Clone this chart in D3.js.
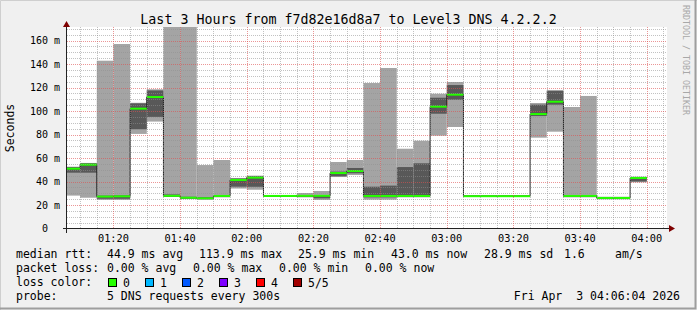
<!DOCTYPE html>
<html>
<head>
<meta charset="utf-8">
<script src="https://cdn.jsdelivr.net/npm/d3@7"></script>
<style>
  html, body { margin: 0; padding: 0; background: #f0f0f0; }
  svg { display: block; font-family: "DejaVu Sans Mono", monospace; }
  text { white-space: pre; }
</style>
</head>
<body>
<svg id="chart" width="697" height="310"></svg>
<script>
/* smokeping-style rtt graph: 5 pings per 300s step, smoke = spread of the
   sorted pings, green bar = median (loss 0). */

// 5-minute step starts (HH:MM), last 3 hours
const slotStart = ['01:05', '01:10', '01:15', '01:20', '01:25', '01:30', '01:35', '01:40', '01:45', '01:50',
  '01:55', '02:00', '02:05', '02:10', '02:15', '02:20', '02:25', '02:30', '02:35', '02:40',
  '02:45', '02:50', '02:55', '03:00', '03:05', '03:10', '03:15', '03:20', '03:25', '03:30',
  '03:35', '03:40', '03:45', '03:50', '03:55'];
// sorted ping rtts per step, ms
const ping1 = [28.0, 26.2, 24.3, 24.3, 80.5, 91.0, 26.8, 25.0, 24.5, 26.5,
  34.0, 33.0, 26.8, 26.8, 26.5, 24.3, 43.8, 45.5, 24.5, 24.5,
  26.5, 26.5, 79.0, 86.4, 27.0, 27.0, 27.0, 27.0, 77.3, 82.4,
  26.5, 26.5, 24.8, 24.8, 39.3];
const ping2 = [47.5, 47.5, 25.3, 25.3, 84.5, 95.0, 27.2, 25.5, 25.0, 27.0,
  35.6, 35.5, 27.0, 27.0, 27.0, 25.7, 44.4, 47.0, 26.5, 26.5,
  27.0, 27.0, 97.7, 109.6, 27.3, 27.3, 27.3, 27.3, 95.7, 105.4,
  27.0, 27.0, 25.2, 25.2, 40.0];
const median = [50.9, 54.3, 27.2, 27.4, 102.0, 111.9, 27.8, 26.2, 25.7, 27.7,
  41.3, 43.3, 27.7, 27.7, 27.8, 27.8, 47.2, 48.9, 27.7, 27.7,
  27.7, 27.7, 103.7, 113.9, 27.5, 27.5, 27.5, 27.5, 97.4, 107.9,
  27.7, 27.7, 26.0, 26.0, 43.0];
const ping4 = [52.2, 55.5, 28.0, 28.0, 106.5, 117.5, 29.0, 27.0, 26.5, 28.2,
  42.5, 44.5, 28.0, 28.0, 28.5, 28.5, 48.4, 51.5, 35.6, 36.5,
  52.3, 55.5, 111.3, 122.1, 28.0, 28.0, 28.0, 28.0, 105.4, 117.0,
  28.5, 28.5, 26.5, 26.5, 43.8];
const ping5 = [52.6, 55.8, 142.8, 157.0, 107.0, 118.5, 185.0, 180.0, 54.0, 58.3,
  43.0, 45.0, 28.3, 28.5, 30.2, 31.9, 56.6, 58.3, 123.8, 136.6,
  67.9, 74.7, 114.7, 124.7, 28.3, 28.3, 28.3, 28.3, 106.8, 117.9,
  103.4, 112.8, 27.0, 27.0, 44.1];

const yTicks = [0, 20, 40, 60, 80, 100, 120, 140, 160];
const xTicks = ['01:20', '01:40', '02:00', '02:20', '02:40', '03:00', '03:20', '03:40', '04:00'];

const title = 'Last 3 Hours from f7d82e16d8a7 to Level3 DNS 4.2.2.2';
const legendRtt = ['44.9 ms avg', '113.9 ms max', '25.9 ms min', '43.0 ms now', '28.9 ms sd', '1.6', 'am/s'];
const legendLoss = ['0.00 % avg', '0.00 % max', '0.00 % min', '0.00 % now'];
const lossLabels = ['0', '1', '2', '3', '4', '5/5'];
const lossColors = ['#26ff00', '#00b8ff', '#0059ff', '#7e00ff', '#ff0000', '#a10000'];
const probeText = '5 DNS requests every 300s';
const stampText = 'Fri Apr  3 04:06:04 2026';

const W = 697, H = 310;
const P = { l: 67, r: 667, t: 27, b: 228.5 };

const parseT = d3.timeParse('%H:%M:%S');
const t0 = parseT('01:06:04'), t1 = parseT('04:06:04');
const hm = s => parseT(s + ':00');
const step = 5 * 60 * 1000;

const x = d3.scaleTime().domain([t0, t1]).range([P.l, P.r]);
const y = d3.scaleLinear().domain([0, 171.5]).range([P.b, P.t]);

const rows = slotStart.map((s, i) => ({
  t: hm(s), p1: ping1[i], p2: ping2[i], med: median[i], p4: ping4[i], p5: ping5[i]
}));

const svg = d3.select('#chart');

// frame: background + shaded border
svg.append('rect').attr('width', W).attr('height', H).attr('fill', '#f0f0f0');
svg.append('path').attr('d', `M0.5,${H} V0.5 H${W}`).attr('fill', 'none').attr('stroke', '#cfcfcf').attr('stroke-width', 1);
svg.append('path').attr('d', `M0,${H - 1.5} H${W - 1.5} V0`).attr('fill', 'none').attr('stroke', '#9e9e9e').attr('stroke-width', 2);

// canvas
svg.append('rect').attr('x', P.l).attr('y', P.t).attr('width', P.r - P.l).attr('height', P.b - P.t).attr('fill', '#fff');

svg.append('defs').append('clipPath').attr('id', 'plot')
  .append('rect').attr('x', P.l).attr('y', P.t).attr('width', P.r - P.l).attr('height', P.b - P.t);

const g = svg.append('g').attr('clip-path', 'url(#plot)');
const bx = d => x(d.t), bw = d => x(new Date(+d.t + step)) - x(d.t);

// smoke: outer pair (p1..p5) then inner pair (p2..p4)
g.append('g').selectAll('rect').data(rows).join('rect')
  .attr('x', bx).attr('width', bw)
  .attr('y', d => y(d.p5)).attr('height', d => y(d.p1) - y(d.p5))
  .attr('fill', '#a4a4a4');
g.append('g').selectAll('rect').data(rows).join('rect')
  .attr('x', bx).attr('width', bw)
  .attr('y', d => y(d.p4)).attr('height', d => y(d.p2) - y(d.p4))
  .attr('fill', '#585858');

// median step line
const last = rows[rows.length - 1];
const medPts = rows.map(d => [x(d.t), y(d.med)]).concat([[x(new Date(+last.t + step)), y(last.med)]]);
g.append('path').attr('d', d3.line().curve(d3.curveStepAfter)(medPts))
  .attr('fill', 'none').attr('stroke', '#202020').attr('stroke-width', 1);

// median, coloured by loss (all 0 here)
g.append('g').selectAll('rect').data(rows).join('rect')
  .attr('x', bx).attr('width', bw)
  .attr('y', d => y(d.med) - 1).attr('height', 2)
  .attr('fill', lossColors[0]);

// grid on top of the data, rrdtool style
const grid = svg.append('g').attr('fill', 'none').attr('stroke-dasharray', '1,1').attr('shape-rendering', 'crispEdges');
const minorY = d3.range(5, 171.5, 5).filter(v => v % 20 !== 0);
grid.selectAll('.hmin').data(minorY).join('line')
  .attr('x1', P.l).attr('x2', P.r).attr('y1', d => Math.round(y(d)) + 0.5).attr('y2', d => Math.round(y(d)) + 0.5)
  .attr('stroke', 'rgba(143,143,143,0.55)');
const minorX = d3.timeMinute.every(5).range(t0, t1).filter(t => t.getMinutes() % 20 !== 0);
grid.selectAll('.vmin').data(minorX).join('line')
  .attr('y1', P.t).attr('y2', P.b).attr('x1', d => Math.round(x(d)) + 0.5).attr('x2', d => Math.round(x(d)) + 0.5)
  .attr('stroke', 'rgba(143,143,143,0.55)');
grid.selectAll('.hmaj').data(yTicks.filter(v => v > 0)).join('line')
  .attr('x1', P.l).attr('x2', P.r).attr('y1', d => Math.round(y(d)) + 0.5).attr('y2', d => Math.round(y(d)) + 0.5)
  .attr('stroke', 'rgba(222,80,80,0.6)');
grid.selectAll('.vmaj').data(xTicks).join('line')
  .attr('y1', P.t).attr('y2', P.b).attr('x1', d => Math.round(x(hm(d))) + 0.5).attr('x2', d => Math.round(x(hm(d))) + 0.5)
  .attr('stroke', 'rgba(222,80,80,0.6)');

// axes + arrows
const ax = svg.append('g').attr('shape-rendering', 'crispEdges');
ax.append('line').attr('x1', P.l - 4).attr('x2', P.r + 2).attr('y1', P.b).attr('y2', P.b).attr('stroke', '#222');
ax.append('line').attr('x1', P.l - 0.5).attr('x2', P.l - 0.5).attr('y1', P.b + 4).attr('y2', P.t - 1).attr('stroke', '#222');
svg.append('path').attr('d', `M${P.r + 2},${P.b - 3.5} L${P.r + 8},${P.b} L${P.r + 2},${P.b + 3.5}Z`).attr('fill', '#7f0000');
svg.append('path').attr('d', `M${P.l - 4},${P.t} L${P.l - 0.5},${P.t - 6} L${P.l + 3},${P.t}Z`).attr('fill', '#7f0000');

// tick labels
svg.append('g').selectAll('text').data(yTicks).join('text')
  .attr('x', 60).attr('y', d => y(d)).attr('dy', '0.36em').attr('text-anchor', 'end')
  .attr('font-size', 10).attr('fill', '#000')
  .text(d => d === 0 ? '0  ' : `${d} m`);
svg.append('g').selectAll('text').data(xTicks).join('text')
  .attr('x', d => x(hm(d))).attr('y', 241.5).attr('text-anchor', 'middle')
  .attr('font-size', 10.3).attr('fill', '#000').text(d => d);

// title, axis label, rrdtool tag
svg.append('text').attr('x', W / 2).attr('y', 23.5).attr('text-anchor', 'middle')
  .attr('font-size', 13.3).text(title);
svg.append('text').attr('transform', 'translate(14,128) rotate(-90)').attr('text-anchor', 'middle')
  .attr('font-size', 11.5).text('Seconds');
svg.append('text').attr('transform', 'translate(683,5) rotate(90)').attr('font-size', 8.3)
  .attr('fill', '#a8a8a8').text('RRDTOOL / TOBI OETIKER');

// legend
const lg = svg.append('g').attr('font-size', 11.5).attr('fill', '#000');
const put = (s, px, py) => lg.append('text').attr('x', px).attr('y', py).text(s);
put('median rtt:', 16, 258);
[107, 199, 298, 391, 484, 564, 615].forEach((px, i) => put(legendRtt[i], px, 258));
put('packet loss:', 16, 272);
[107, 193, 279, 365].forEach((px, i) => put(legendLoss[i], px, 272));
put('loss color:', 16, 286);
lossLabels.forEach((s, i) => {
  lg.append('rect').attr('x', 108.5 + i * 37).attr('y', 278.5).attr('width', 8).attr('height', 8)
    .attr('fill', lossColors[i]).attr('stroke', '#000').attr('stroke-width', 1);
  put(s, 123 + i * 37, 286.5);
});
put('probe:', 16, 300);
put(probeText, 107, 300);
lg.append('text').attr('x', 680).attr('y', 300).attr('text-anchor', 'end').text(stampText);
</script>
</body>
</html>
